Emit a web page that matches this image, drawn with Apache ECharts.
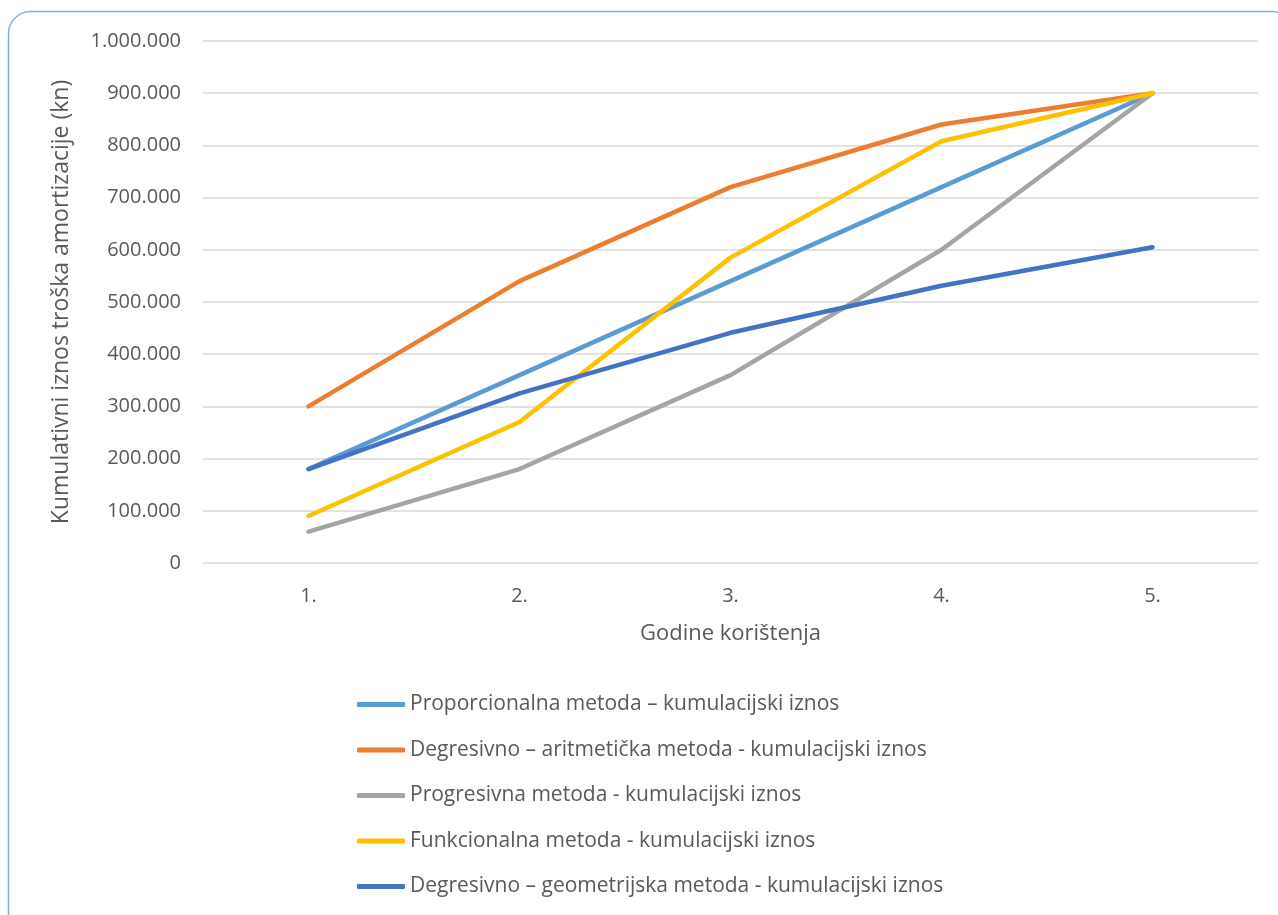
<!DOCTYPE html>
<html>
<head>
<meta charset="utf-8">
<script src="https://cdn.jsdelivr.net/npm/echarts@6/dist/echarts.min.js"></script>
<style>
html,body{margin:0;padding:0;background:#fff;}
#chart{width:1278px;height:915px;}
</style>
</head>
<body>
<div id="chart"></div>
<script>
const categories = ['1.', '2.', '3.', '4.', '5.'];
const seriesNames = [
  'Proporcionalna metoda – kumulacijski iznos',
  'Degresivno – aritmetička metoda - kumulacijski iznos',
  'Progresivna metoda - kumulacijski iznos',
  'Funkcionalna metoda - kumulacijski iznos',
  'Degresivno – geometrijska metoda - kumulacijski iznos'
];
const proporcionalna = [180000, 360000, 540000, 720000, 900000];
const aritmeticka = [300000, 540000, 720000, 840000, 900000];
const progresivna = [60000, 180000, 360000, 600000, 900000];
const funkcionalna = [90000, 270000, 585000, 808000, 900000];
const geometrijska = [180000, 325000, 441000, 531000, 605000];
const colors = ['#5B9BD5', '#ED7D31', '#A5A5A5', '#FFC000', '#4472C4'];
const values = [proporcionalna, aritmeticka, progresivna, funkcionalna, geometrijska];

const font = 'Open Sans';
const textColor = '#595959';

function fmt(v) {
  return String(v).replace(/\B(?=(\d{3})+(?!\d))/g, '.');
}

const chart = echarts.init(document.getElementById('chart'), null, {renderer: 'canvas'});
chart.setOption({
  animation: false,
  color: colors,
  graphic: [{
    type: 'rect',
    shape: {x: 8.5, y: 11.5, width: 1285, height: 925, r: 22},
    style: {fill: 'none', stroke: '#7FB0E0', lineWidth: 1.5},
    silent: true, z: -1
  }],
  grid: {left: 203, right: 20, top: 41, bottom: 352, containLabel: false},
  xAxis: {
    type: 'category',
    data: categories,
    boundaryGap: true,
    name: 'Godine korištenja',
    nameLocation: 'middle',
    nameGap: 60,
    nameTextStyle: {fontFamily: font, fontSize: 22, color: textColor},
    axisLine: {show: false},
    axisTick: {show: false},
    axisLabel: {fontFamily: font, fontSize: 20, color: textColor, margin: 23}
  },
  yAxis: {
    type: 'value',
    min: 0, max: 1000000, interval: 100000,
    name: 'Kumulativni iznos troška amortizacije (kn)',
    nameLocation: 'middle',
    nameGap: 130,
    nameTextStyle: {fontFamily: font, fontSize: 23, color: textColor},
    axisLine: {show: false},
    axisTick: {show: false},
    axisLabel: {fontFamily: font, fontSize: 20, color: textColor, margin: 22, formatter: fmt},
    splitLine: {lineStyle: {color: '#D9D9D9', width: 1.5}}
  },
  legend: {
    orient: 'vertical',
    left: 357,
    top: 694,
    padding: 0,
    itemWidth: 48,
    itemHeight: 5,
    itemGap: 24.5,
    icon: 'roundRect',
    textStyle: {fontFamily: font, fontSize: 21, color: textColor},
    data: seriesNames
  },
  series: seriesNames.map((n, i) => ({
    name: n,
    type: 'line',
    data: values[i],
    symbol: 'none',
    lineStyle: {width: 4.5, color: colors[i], cap: 'round', join: 'round'},
    itemStyle: {color: colors[i]}
  }))
});
</script>
</body>
</html>
